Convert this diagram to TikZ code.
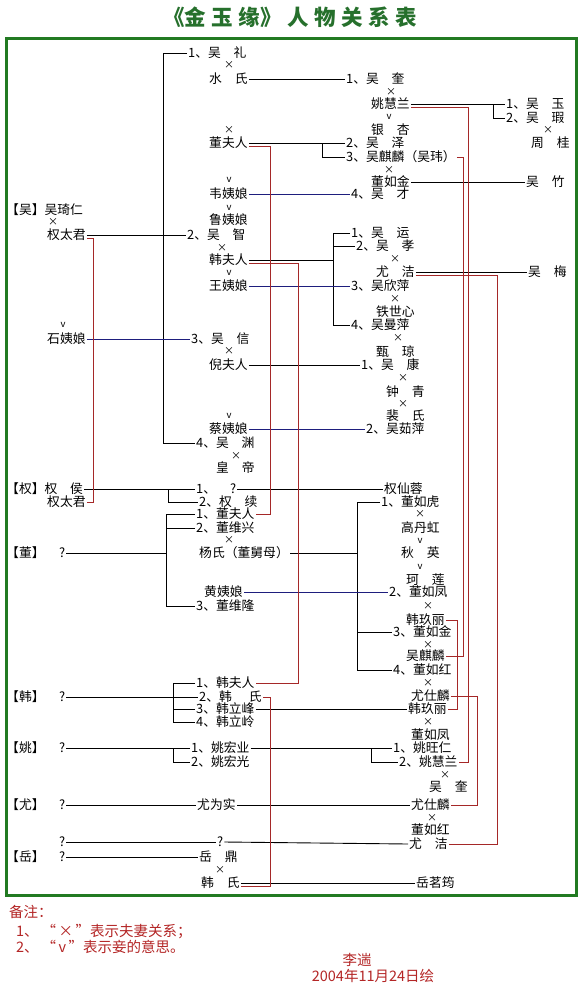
\documentclass[tikz,border=0pt]{standalone}
\usepackage{fontspec}
\setmainfont{Noto Sans CJK SC}
\definecolor{bordergreen}{RGB}{34,122,34}
\definecolor{titlegreen}{RGB}{38,112,44}
\definecolor{linered}{RGB}{165,40,40}
\definecolor{lineblue}{RGB}{30,30,125}
\definecolor{notered}{RGB}{180,38,38}
\newcommand{\mytsp}{\hspace{5.5pt}}
\begin{document}
\begin{tikzpicture}[x=1pt,y=-1pt,
  txt/.style={anchor=west,inner xsep=1pt,inner ysep=0pt,font=\fontsize{12.8}{13}\selectfont,text height=10pt,text depth=1pt},
  mul/.style={inner sep=0pt,font=\fontsize{10}{10}\selectfont},
  cub/.style={inner sep=0pt,font=\fontsize{9.5}{9.5}\selectfont},
  note/.style={anchor=west,inner sep=0pt,text=notered,font=\fontsize{14.5}{15}\selectfont},
  blk/.style={draw=black,line width=0.9pt},
  blu/.style={draw=lineblue,line width=0.9pt},
  rd/.style={draw=linered,line width=0.9pt}]
\useasboundingbox (0,0) rectangle (582,991);
\fill[white] (0,0) rectangle (582,991);
% title
\node[inner sep=0pt,text=titlegreen,font=\fontsize{21.5}{22}\selectfont\bfseries] (title) at (290,17) {《金\mytsp 玉\mytsp 缘》\mytsp 人\mytsp 物\mytsp 关\mytsp 系\mytsp 表};
% border
\draw[bordergreen,line width=3pt] (6.5,38) rectangle (576.5,895);

% trunk coordinates
\coordinate (tA) at (163,0);
\coordinate (tB) at (322,0);
\coordinate (tC) at (493,0);
\coordinate (tD) at (333,0);
\coordinate (tE) at (168,0);
\coordinate (tF) at (166,0);
\coordinate (tG) at (357,0);
\coordinate (tH) at (173,0);
\coordinate (tI) at (173,0);
\coordinate (tJ) at (371,0);
\coordinate (r1) at (93,0);
\coordinate (r2) at (270,0);
\coordinate (r3) at (298,0);
\coordinate (r4) at (270,0);
\coordinate (r5) at (468,0);
\coordinate (r6) at (463,0);
\coordinate (r7) at (497,0);
\coordinate (r8) at (457,0);
\coordinate (r9) at (477,0);

% ---- column A
\node[txt] (wulbl) at (5,210) {【吴】吴琦仁};
\node[mul] (m0) at (53,222) {×};
\node[txt] (qtj1) at (46,235) {权太君};
\node[cub] (v0) at (63,325) {v};
\node[txt] (shi) at (46,339) {石姨娘};
\node[txt] (quanhou) at (5,489) {【权】权　侯};
\node[txt] (qtj2) at (46,502) {权太君};
\node[txt] (donglbl) at (5,553) {【董】};
\node[txt] (dongq) at (58,553) {?};
\node[txt] (hanlbl) at (5,697) {【韩】};
\node[txt] (hanq) at (58,697) {?};
\node[txt] (yaolbl) at (5,748) {【姚】};
\node[txt] (yaoq) at (58,748) {?};
\node[txt] (youlbl) at (5,805) {【尤】};
\node[txt] (youq) at (58,805) {?};
\node[txt] (qx) at (58,842) {?};
\node[txt] (yuelbl) at (5,857) {【岳】};
\node[txt] (yueq) at (58,857) {?};

% ---- column B
\node[txt] (wuli) at (187,53) {1、吴　礼};
\node[mul] (m1) at (229,65) {×};
\node[txt] (shuishi) at (208,79) {水　氏};
\node[mul] (m2) at (229,130) {×};
\node[txt] (dfr1) at (208,143) {董夫人};
\node[cub] (v1) at (229,180) {v};
\node[txt] (wei) at (208,194) {韦姨娘};
\node[cub] (v2) at (229,208) {v};
\node[txt] (lu) at (208,220) {鲁姨娘};
\node[txt] (wuzhi) at (186,235) {2、吴　智};
\node[mul] (m3) at (222,248) {×};
\node[txt] (hfr1) at (208,260) {韩夫人};
\node[cub] (v3) at (229,273) {v};
\node[txt] (wang) at (208,286) {王姨娘};
\node[txt] (wuxin) at (190,339) {3、吴　信};
\node[mul] (m4) at (229,351) {×};
\node[txt] (ni) at (208,365) {倪夫人};
\node[cub] (v4) at (229,416) {v};
\node[txt] (cai) at (208,429) {蔡姨娘};
\node[txt] (wuyuan) at (195,443) {4、吴　渊};
\node[mul] (m5) at (236,456) {×};
\node[txt] (huangdi) at (215,468) {皇　帝};
\node[txt] (q1) at (195,489) {1、\hspace{14pt}?};
\node[txt] (quanxu) at (198,502) {2、权　续};
\node[txt] (dfr2) at (195,514) {1、董夫人};
\node[txt] (dwx) at (195,528) {2、董维兴};
\node[mul] (m6) at (229,540) {×};
\node[txt] (yang) at (198,553) {杨氏（董舅母）};
\node[txt] (huang) at (203,592) {黄姨娘};
\node[txt] (dwl) at (195,606) {3、董维隆};
\node[txt] (hfr2) at (195,683) {1、韩夫人};
\node[txt] (hanshi2) at (198,697) {2、韩\hspace{17pt}氏};
\node[txt] (hlf) at (195,709) {3、韩立峰};
\node[txt] (hll) at (195,722) {4、韩立岭};
\node[txt] (yhy) at (190,748) {1、姚宏业};
\node[txt] (yhg) at (190,762) {2、姚宏光};
\node[txt] (ywsh) at (196,805) {尤为实};
\node[txt] (q2) at (216,842) {?};
\node[txt] (yueding) at (198,857) {岳　鼎};
\node[mul] (m7) at (220,870) {×};
\node[txt] (hanshi3) at (200,883) {韩　氏};

% ---- column C
\node[txt] (wukui1) at (345,79) {1、吴　奎};
\node[mul] (m8) at (391,92) {×};
\node[txt] (yhl1) at (370,104) {姚慧兰};
\node[cub] (v5) at (389,117) {v};
\node[txt] (yinxing) at (370,130) {银　杏};
\node[txt] (wuze) at (345,143) {2、吴　泽};
\node[txt] (wql1) at (345,157) {3、吴麒麟（吴玮）};
\node[mul] (m9) at (389,170) {×};
\node[txt] (drj1) at (370,182) {董如金};
\node[txt] (wucai) at (350,194) {4、吴　才};
\node[txt] (wuyun) at (350,233) {1、吴　运};
\node[txt] (wuxiao) at (355,246) {2、吴　孝};
\node[mul] (m10) at (395,259) {×};
\node[txt] (youjie1) at (375,272) {尤　洁};
\node[txt] (wxp) at (350,286) {3、吴欣萍};
\node[mul] (m11) at (395,299) {×};
\node[txt] (tsx) at (375,312) {铁世心};
\node[txt] (wmp) at (350,325) {4、吴曼萍};
\node[mul] (m12) at (398,338) {×};
\node[txt] (zhenqiong) at (375,352) {甄　琼};
\node[txt] (wukang) at (360,365) {1、吴　康};
\node[mul] (m13) at (403,378) {×};
\node[txt] (zhongqing) at (385,392) {钟　青};
\node[mul] (m14) at (403,404) {×};
\node[txt] (peishi) at (385,416) {裴　氏};
\node[txt] (wrp) at (365,429) {2、吴茹萍};
\node[txt] (qxr) at (383,489) {权仙蓉};
\node[txt] (drh) at (380,502) {1、董如虎};
\node[mul] (m15) at (420,514) {×};
\node[txt] (gdh) at (400,528) {高丹虹};
\node[cub] (v6) at (420,541) {v};
\node[txt] (qiuying) at (400,553) {秋　英};
\node[cub] (v7) at (420,567) {v};
\node[txt] (kelian) at (405,580) {珂　莲};
\node[txt] (drf1) at (388,592) {2、董如凤};
\node[mul] (m16) at (428,606) {×};
\node[txt] (hjl1) at (405,620) {韩玖丽};
\node[txt] (drj2) at (392,632) {3、董如金};
\node[mul] (m17) at (428,645) {×};
\node[txt] (wql2) at (405,656) {吴麒麟};
\node[txt] (drhong1) at (392,670) {4、董如红};
\node[mul] (m18) at (428,683) {×};
\node[txt] (ysl1) at (410,696) {尤仕麟};
\node[txt] (hjl2) at (407,709) {韩玖丽};
\node[mul] (m19) at (428,722) {×};
\node[txt] (drf2) at (410,735) {董如凤};
\node[txt] (ywr) at (392,748) {1、姚旺仁};
\node[txt] (yhl2) at (398,762) {2、姚慧兰};
\node[mul] (m20) at (445,775) {×};
\node[txt] (wukui2) at (428,787) {吴　奎};
\node[txt] (ysl2) at (410,805) {尤仕麟};
\node[mul] (m21) at (432,818) {×};
\node[txt] (drhong2) at (410,830) {董如红};
\node[txt] (youjie2) at (408,844) {尤　洁};
\node[txt] (ymy) at (415,883) {岳茗筠};

% ---- column D
\node[txt] (wuyu) at (505,104) {1、吴　玉};
\node[txt] (wuxia) at (505,118) {2、吴　瑕};
\node[mul] (m22) at (548,130) {×};
\node[txt] (zhougui) at (530,143) {周　桂};
\node[txt] (wuzhu) at (525,182) {吴　竹};
\node[txt] (wumei) at (527,272) {吴　梅};

% ---- black connectors
\draw[blk] (wuli.west) -- (wuli.west -| tA) |- (wuyuan.west);
\draw[blk] (shuishi.east) -- (wukui1.west);
\draw[blk] (dfr1.east) -- (wuze.west);
\draw[blk] (dfr1.east -| tB) |- (wql1.west);
\draw[blk] (drj1.east) -- (wuzhu.west);
\draw[blk] (yhl1.east) -- (wuyu.west);
\draw[blk] (yhl1.east -| tC) |- (wuxia.west);
\draw[blk] (qtj1.east) -- (wuzhi.west);
\draw[blk] (hfr1.east) -- (hfr1.east -| tD);
\draw[blk] (wuyun.west) -- (wuyun.west -| tD) |- (wmp.west);
\draw[blk] (wuxiao.west) -- (wuxiao.west -| tD);
\draw[blk] (youjie1.east) -- (wumei.west);
\draw[blk] (ni.east) -- (wukang.west);
\draw[blk] (quanhou.east) -- (q1.west);
\draw[blk] (quanhou.east -| tE) |- (quanxu.west);
\draw[blk] (q1.east) -- (qxr.west);
\draw[blk] (dongq.east) -- (dongq.east -| tF);
\draw[blk] (dfr2.west) -- (dfr2.west -| tF) |- (dwl.west);
\draw[blk] (dwx.west) -- (dwx.west -| tF);
\draw[blk] (yang.east) -- (yang.east -| tG);
\draw[blk] (drh.west) -- (drh.west -| tG) |- (drhong1.west);
\draw[blk] (drj2.west) -- (drj2.west -| tG);
\draw[blk] (hanq.east) -- (hanshi2.west);
\draw[blk] (hfr2.west) -- (hfr2.west -| tH) |- (hll.west);
\draw[blk] (hlf.west) -- (hlf.west -| tH);
\draw[blk] (hlf.east) -- (hjl2.west);
\draw[blk] (yaoq.east) -- (yhy.west);
\draw[blk] (yhy.west -| tI) |- (yhg.west);
\draw[blk] (yhy.east) -- (ywr.west);
\draw[blk] (yhy.east -| tJ) |- (yhl2.west);
\draw[blk] (youq.east) -- (ywsh.west);
\draw[blk] (ywsh.east) -- (ysl2.west);
\draw[blk] (qx.east) -- (q2.west);
\draw[blk] (q2.east) -- (youjie2.west);
\draw[blk] (yueq.east) -- (yueding.west);
\draw[blk] (hanshi3.east) -- (ymy.west);

% ---- blue connectors (concubines)
\draw[blu] (wei.east) -- (wucai.west);
\draw[blu] (wang.east) -- (wxp.west);
\draw[blu] (shi.east) -- (wuxin.west);
\draw[blu] (cai.east) -- (wrp.west);
\draw[blu] (huang.east) -- (drf1.west);

% ---- red connectors (same person)
\draw[rd] ([yshift=-3pt]qtj1.east) -- ([yshift=-3pt]qtj1.east -| r1) |- (qtj2.east);
\draw[rd] ([yshift=-3pt]dfr1.east) -- ([yshift=-3pt]dfr1.east -| r2) |- (dfr2.east);
\draw[rd] ([yshift=-3pt]hfr1.east) -- ([yshift=-3pt]hfr1.east -| r3) |- (hfr2.east);
\draw[rd] ([yshift=-3pt]hanshi3.east) -- ([yshift=-3pt]hanshi3.east -| r4) |- (hanshi2.east);
\draw[rd] ([yshift=-3pt]yhl1.east) -- ([yshift=-3pt]yhl1.east -| r5) |- (yhl2.east);
\draw[rd] (wql1.east) -- (wql1.east -| r6) |- (wql2.east);
\draw[rd] ([yshift=-3pt]youjie1.east) -- ([yshift=-3pt]youjie1.east -| r7) |- (youjie2.east);
\draw[rd] (hjl1.east) -- (hjl1.east -| r8) |- (hjl2.east);
\draw[rd] (ysl1.east) -- (ysl1.east -| r9) |- (ysl2.east);

% ---- notes
\node[note] (n0) at (9,912) {备注：};
\node[note] (n1) at (16,932) {1、\hspace{3pt}“\,×\,”表示夫妻关系；};
\node[note] (n2) at (16,947) {2、\hspace{3pt}“\,v\,”表示妾的意思。};
\node[inner sep=0pt,text=notered,font=\fontsize{14.5}{15}\selectfont] (author) at (357,960) {李遄};
\node[inner sep=0pt,text=notered,font=\fontsize{14.5}{15}\selectfont] (date) at (373,976) {2004年11月24日绘};
\end{tikzpicture}
\end{document}
